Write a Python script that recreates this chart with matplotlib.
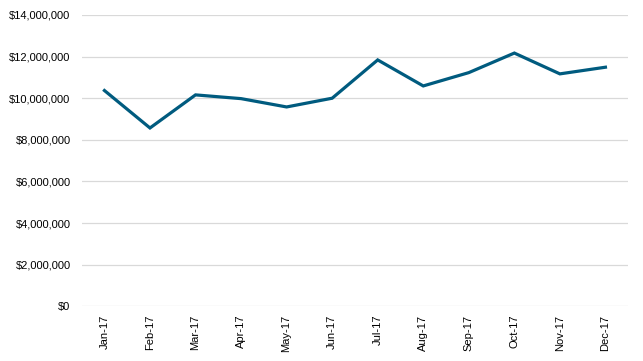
import matplotlib
matplotlib.use("Agg")
import matplotlib.pyplot as plt
from matplotlib.ticker import FuncFormatter

plt.rcParams['font.family'] = ['Liberation Sans', 'DejaVu Sans']

months = ['Jan-17', 'Feb-17', 'Mar-17', 'Apr-17', 'May-17', 'Jun-17',
          'Jul-17', 'Aug-17', 'Sep-17', 'Oct-17', 'Nov-17', 'Dec-17']
values = [10370000, 8570000, 10160000, 9980000, 9580000, 10000000,
          11840000, 10590000, 11230000, 12170000, 11170000, 11490000]
yticks = [0, 2000000, 4000000, 6000000, 8000000, 10000000, 12000000, 14000000]

fig = plt.figure(figsize=(6.43, 3.61), dpi=100)
ax = fig.add_axes([0.127, 0.1515, 0.85, 0.807])

x = range(len(months))
ax.plot(x, values, color='#005B7F', linewidth=2.3, solid_joinstyle='miter', zorder=3)

ax.set_xlim(-0.5, len(months) - 0.5)
ax.set_ylim(0, 14000000)
ax.set_yticks(yticks)
ax.yaxis.set_major_formatter(FuncFormatter(lambda v, p: '${:,.0f}'.format(v)))
ax.set_xticks(list(x))
ax.set_xticklabels(months, rotation=90)

ax.grid(axis='y', color='#D9D9D9', linewidth=0.9)
ax.set_axisbelow(True)
for s in ax.spines.values():
    s.set_visible(False)
ax.tick_params(axis='both', length=0, labelsize=8, colors='#000000')
ax.tick_params(axis='y', pad=8)
ax.tick_params(axis='x', pad=6)

fig.savefig('out.png', dpi=100)
